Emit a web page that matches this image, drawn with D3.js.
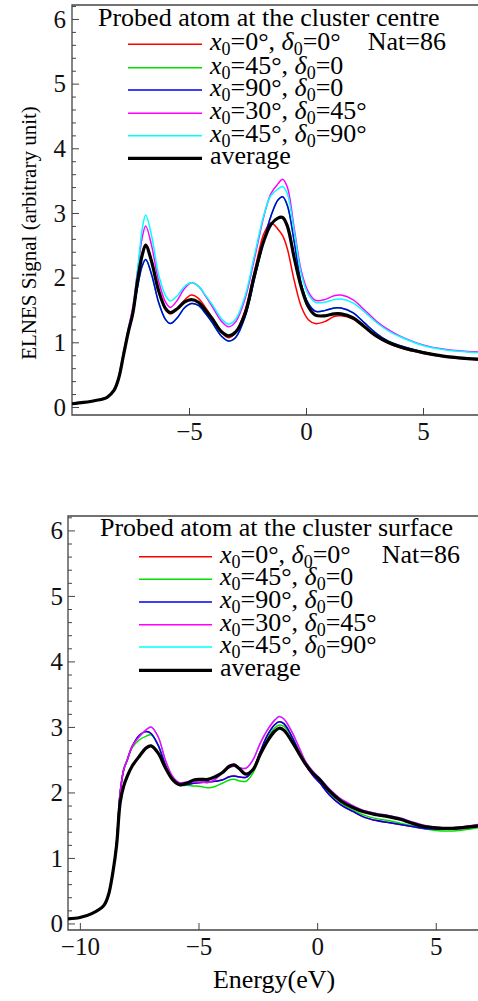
<!DOCTYPE html>
<html><head><meta charset="utf-8">
<script src="https://cdn.jsdelivr.net/npm/d3@7/dist/d3.min.js"></script>
<style>
body{margin:0;background:#fff;}
svg{display:block;font-family:"Liberation Serif","DejaVu Serif",serif;}
</style></head>
<body><svg id="c" width="478" height="1001"></svg>
<script>
// ---------- DATA ----------
// Top panel: probed atom at the cluster centre
const energyTop = [-10,-9.5,-9,-8.5,-8.2,-8.0,-7.8,-7.6,-7.4,-7.2,-7.0,-6.85,-6.6,-6.3,-6.0,-5.8,-5.5,-5.2,-4.9,-4.6,-4.3,-4.0,-3.6,-3.3,-3.0,-2.6,-2.2,-1.8,-1.5,-1.2,-1.0,-0.8,-0.5,-0.2,0.1,0.4,0.8,1.2,1.5,2.0,2.5,3.0,3.5,4.0,5.0,6.0,7.35];
const topRed     = [0.05,0.07,0.10,0.15,0.26,0.45,0.80,1.15,1.45,1.97,2.37,2.52,2.27,1.80,1.50,1.44,1.52,1.65,1.73,1.68,1.54,1.38,1.15,1.07,1.15,1.50,2.10,2.68,2.85,2.75,2.65,2.45,1.95,1.55,1.35,1.29,1.32,1.40,1.41,1.36,1.23,1.09,0.99,0.92,0.83,0.77,0.73];
const topGreen   = [0.05,0.07,0.10,0.15,0.26,0.45,0.80,1.15,1.45,1.85,2.18,2.28,2.05,1.62,1.35,1.29,1.38,1.53,1.60,1.57,1.45,1.30,1.09,1.02,1.08,1.40,1.98,2.58,2.95,3.20,3.25,3.12,2.55,1.90,1.60,1.48,1.49,1.53,1.53,1.46,1.30,1.14,1.02,0.95,0.85,0.78,0.73];
const topBlue    = [0.05,0.07,0.10,0.15,0.26,0.45,0.80,1.15,1.45,1.85,2.18,2.28,2.05,1.62,1.35,1.29,1.38,1.53,1.60,1.57,1.45,1.30,1.09,1.02,1.08,1.40,1.98,2.58,2.95,3.20,3.25,3.12,2.55,1.90,1.60,1.48,1.49,1.53,1.53,1.46,1.30,1.14,1.02,0.95,0.85,0.78,0.73];
const topMagenta = [0.05,0.07,0.10,0.15,0.27,0.48,0.85,1.20,1.55,2.10,2.62,2.80,2.50,1.95,1.62,1.54,1.65,1.83,1.92,1.87,1.72,1.55,1.32,1.24,1.32,1.68,2.30,2.95,3.30,3.45,3.52,3.40,2.75,2.10,1.78,1.65,1.66,1.72,1.73,1.66,1.50,1.33,1.20,1.10,0.96,0.89,0.85];
const topCyan    = [0.05,0.07,0.10,0.15,0.26,0.46,0.82,1.17,1.50,2.10,2.75,2.97,2.65,2.05,1.72,1.64,1.72,1.86,1.92,1.87,1.73,1.58,1.36,1.28,1.36,1.72,2.35,2.97,3.27,3.37,3.41,3.30,2.70,2.05,1.74,1.62,1.62,1.66,1.67,1.61,1.47,1.31,1.18,1.09,0.95,0.88,0.84];
const topAverage = [0.05,0.07,0.10,0.15,0.26,0.45,0.80,1.15,1.45,1.95,2.35,2.50,2.25,1.80,1.52,1.46,1.52,1.62,1.66,1.62,1.50,1.36,1.16,1.10,1.16,1.45,2.05,2.57,2.82,2.92,2.93,2.80,2.30,1.85,1.55,1.42,1.41,1.44,1.44,1.38,1.24,1.10,1.00,0.93,0.84,0.78,0.74];

// Bottom panel: probed atom at the cluster surface
const energyBot = [-10.5,-10,-9.5,-9,-8.8,-8.6,-8.45,-8.3,-8.15,-8.0,-7.8,-7.5,-7.2,-7.0,-6.7,-6.4,-6.1,-5.8,-5.5,-5.2,-4.9,-4.6,-4.3,-4.0,-3.7,-3.5,-3.3,-3.0,-2.7,-2.4,-2.1,-1.8,-1.6,-1.4,-1.1,-0.8,-0.5,-0.2,0.1,0.5,1.0,1.5,2.0,2.5,3.0,3.5,4.0,4.5,5.0,5.5,6.0,6.78];
const botRed     = [0.07,0.09,0.15,0.27,0.43,0.80,1.25,2.00,2.35,2.50,2.70,2.87,2.93,2.90,2.72,2.42,2.20,2.11,2.12,2.14,2.15,2.16,2.17,2.19,2.24,2.25,2.24,2.23,2.35,2.62,2.87,3.03,3.08,3.05,2.88,2.65,2.43,2.27,2.15,1.97,1.81,1.71,1.62,1.57,1.54,1.51,1.48,1.45,1.44,1.44,1.45,1.48];
const botGreen   = [0.07,0.09,0.15,0.27,0.43,0.80,1.25,2.00,2.35,2.50,2.68,2.80,2.86,2.88,2.72,2.42,2.20,2.11,2.11,2.10,2.09,2.07,2.09,2.14,2.19,2.20,2.18,2.17,2.30,2.57,2.82,2.98,3.03,3.01,2.87,2.66,2.45,2.29,2.17,1.99,1.84,1.73,1.65,1.60,1.57,1.53,1.49,1.45,1.42,1.41,1.42,1.46];
const botBlue    = [0.07,0.09,0.15,0.27,0.43,0.80,1.25,2.00,2.35,2.50,2.70,2.87,2.93,2.90,2.72,2.42,2.20,2.11,2.12,2.14,2.15,2.16,2.17,2.19,2.24,2.25,2.24,2.23,2.35,2.62,2.87,3.03,3.08,3.05,2.88,2.65,2.43,2.27,2.15,1.97,1.81,1.71,1.62,1.57,1.54,1.51,1.48,1.45,1.44,1.44,1.45,1.48];
const botMagenta = [0.07,0.09,0.15,0.27,0.43,0.80,1.25,2.00,2.35,2.50,2.70,2.85,2.96,3.00,2.85,2.50,2.25,2.15,2.16,2.16,2.16,2.15,2.20,2.30,2.38,2.40,2.38,2.37,2.50,2.75,2.95,3.10,3.16,3.12,2.95,2.72,2.48,2.33,2.22,2.06,1.90,1.80,1.72,1.68,1.65,1.61,1.55,1.50,1.47,1.46,1.47,1.51];
const botCyan    = [0.07,0.09,0.15,0.27,0.43,0.80,1.25,2.00,2.35,2.50,2.70,2.85,2.96,3.00,2.85,2.50,2.25,2.15,2.16,2.16,2.16,2.15,2.20,2.30,2.38,2.40,2.38,2.37,2.50,2.75,2.95,3.10,3.16,3.12,2.95,2.72,2.48,2.33,2.22,2.06,1.90,1.80,1.72,1.68,1.65,1.61,1.55,1.50,1.47,1.46,1.47,1.51];
const botAverage = [0.07,0.09,0.15,0.27,0.43,0.80,1.20,1.85,2.10,2.25,2.40,2.55,2.68,2.71,2.60,2.38,2.20,2.12,2.14,2.19,2.20,2.20,2.24,2.30,2.40,2.42,2.37,2.28,2.35,2.58,2.78,2.93,2.98,2.95,2.80,2.62,2.44,2.30,2.20,2.03,1.87,1.77,1.70,1.66,1.63,1.59,1.53,1.48,1.46,1.45,1.46,1.49];

const yTicks = [0,1,2,3,4,5,6];
const xTicksTop = [-5,0,5];
const xTicksBot = [-10,-5,0,5];
const legendLabels = [
  ["0°","0°"],["45°","0"],["90°","0"],["30°","45°"],["45°","90°"],null
];
const seriesNames = ["red","green","blue","magenta","cyan","average"];
const colors = {red:"#ff0000",green:"#00e000",blue:"#0000ee",magenta:"#ff00ff",cyan:"#00ffff",average:"#000000"};

// ---------- DRAW ----------
const svg = d3.select("#c");
const axisColor = "#444";
const FONT = '"Liberation Serif",serif';

function panel(opt){
  const g = svg.append("g");
  const x = d3.scaleLinear().domain(opt.xDom).range([opt.left, 478]);
  const y = d3.scaleLinear().domain(opt.yDom).range([opt.bottom, opt.top]);
  const clipId = "clip"+opt.id;
  svg.append("clipPath").attr("id",clipId).append("rect")
    .attr("x",opt.left).attr("y",opt.top).attr("width",478-opt.left).attr("height",opt.bottom-opt.top);

  const minor = d3.range(0,6.21,0.2).filter(v=>Math.abs(v-Math.round(v))>1e-6);
  g.append("g").attr("transform",`translate(${opt.left},0)`)
    .call(d3.axisLeft(y).tickValues(minor).tickSize(-4).tickFormat(""))
    .call(a=>{a.select(".domain").remove(); a.selectAll("line").attr("stroke",axisColor);});
  g.append("g").attr("transform",`translate(${opt.left},0)`)
    .call(d3.axisLeft(y).tickValues(yTicks).tickSize(-7).tickPadding(opt.yPad).tickFormat(d3.format("d")))
    .call(a=>{a.select(".domain").remove(); a.selectAll("line").attr("stroke",axisColor);
      a.selectAll("text").attr("font-size",25).attr("fill","#111").attr("dy","0.33em")
       .attr("font-family",FONT);});
  g.append("g").attr("transform",`translate(0,${opt.bottom})`)
    .call(d3.axisBottom(x).tickValues(opt.xTicks).tickSize(-7).tickPadding(7).tickFormat(d=>d<0?"\u2212"+(-d):d))
    .call(a=>{a.select(".domain").remove(); a.selectAll("line").attr("stroke",axisColor);
      a.selectAll("text").attr("font-size",25).attr("fill","#111")
       .attr("font-family",FONT);});
  g.append("path").attr("d",`M480,${opt.top}H${opt.left}V${opt.bottom}H480`)
    .attr("fill","none").attr("stroke",axisColor).attr("stroke-width",1.3);

  const line = d3.line().x((d,i)=>x(opt.energy[i])).y(d=>y(d)).curve(d3.curveCatmullRom.alpha(0.5));
  const cg = g.append("g").attr("clip-path",`url(#${clipId})`);
  opt.order.forEach(name=>{
    cg.append("path").datum(opt.series[name]).attr("d",line)
      .attr("fill","none").attr("stroke",colors[name])
      .attr("stroke-width",name==="average"?3.2:1.5).attr("stroke-linejoin","round");
  });

  const fs = 26, sub = 18;
  const lg = g.append("g").attr("fill","#000");
  lg.append("text").attr("x",opt.titleX).attr("y",opt.titleY).attr("font-size",26).text(opt.title);
  lg.append("text").attr("x",opt.natX).attr("y",opt.rowY[0]+6).attr("font-size",fs).attr("text-anchor","end").text("Nat=86");
  seriesNames.forEach((name,i)=>{
    const yy = opt.rowY[i];
    lg.append("line").attr("x1",opt.lineX1).attr("x2",opt.lineX2).attr("y1",yy).attr("y2",yy)
      .attr("stroke",colors[name]).attr("stroke-width",name==="average"?3.2:1.6);
    const t = lg.append("text").attr("x",opt.textX).attr("y",yy+6).attr("font-size",fs);
    const lab = legendLabels[i];
    if(!lab){ t.text("average"); return; }
    t.append("tspan").attr("font-style","italic").text("x");
    t.append("tspan").attr("font-size",sub).attr("dy",5).text("0");
    t.append("tspan").attr("dy",-5).text("="+lab[0]+", ");
    t.append("tspan").attr("font-style","italic").text("δ");
    t.append("tspan").attr("font-size",sub).attr("dy",5).text("0");
    t.append("tspan").attr("dy",-5).text("="+lab[1]);
  });
  return {x,y};
}

panel({id:"t", xDom:[-10,7.35], yDom:[-0.124,6.216], left:72, top:5, bottom:415, yPad:6,
  xTicks:xTicksTop, energy:energyTop,
  series:{red:topRed,green:topGreen,blue:topBlue,magenta:topMagenta,cyan:topCyan,average:topAverage},
  order:["green","red","blue","magenta","cyan","average"],
  title:"Probed atom at the cluster centre", titleX:98, titleY:26,
  natX:446, rowY:[44.3,67.7,90,113.3,135.7,158.3], lineX1:128, lineX2:202, textX:210});

panel({id:"b", xDom:[-10.5,6.78], yDom:[-0.1,6.22], left:68, top:516, bottom:930, yPad:5,
  xTicks:xTicksBot, energy:energyBot,
  series:{red:botRed,green:botGreen,blue:botBlue,magenta:botMagenta,cyan:botCyan,average:botAverage},
  order:["red","cyan","green","blue","magenta","average"],
  title:"Probed atom at the cluster surface", titleX:100, titleY:536,
  natX:460, rowY:[556.7,579.3,602,624.7,647,670.3], lineX1:139, lineX2:212, textX:220});

svg.append("text").attr("transform","translate(36,233) rotate(-90)").attr("text-anchor","middle")
  .attr("font-size",21).text("ELNES Signal (arbitrary unit)");
svg.append("text").attr("x",274).attr("y",988).attr("text-anchor","middle")
  .attr("font-size",26).text("Energy(eV)");
</script></body></html>
